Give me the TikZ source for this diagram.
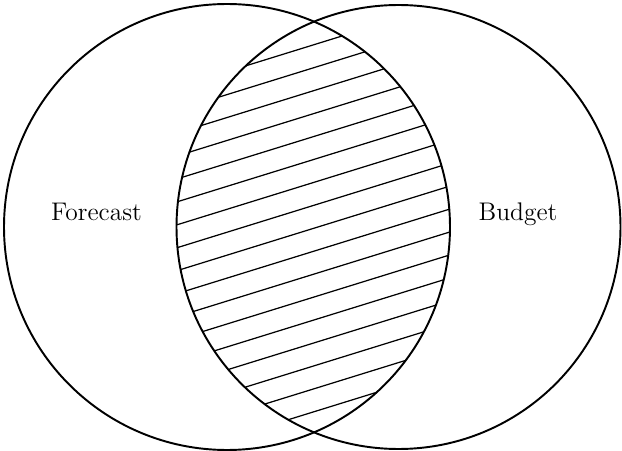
\documentclass[tikz,border=0pt]{standalone}
\usepackage{fontspec}

\begin{document}
\begin{tikzpicture}[
    ring/.style={line width=1.1pt, black},
    hatchline/.style={line width=0.7pt, black},
    setlbl/.style={font={\fontsize{14.5}{17}\selectfont},
                   anchor=base, inner sep=0pt},
]

\useasboundingbox (0, 0) rectangle (12.44, 9);

% Hatching in the overlap
\begin{scope}
    \clip (4.54, 4.46) circle (4.46);
    \clip (7.97, 4.46) circle (4.44);
    \foreach \k in {0,...,16}
        \draw[hatchline] (6.26, {8.1 - 0.4588*\k}) ++(-4, -1.24) -- ++(8, 2.48);
\end{scope}

% Forecast circle
\draw[ring] (4.54, 4.46) circle (4.46);

% Budget circle
\draw[ring] (7.97, 4.46) circle (4.44);

% Labels
\node[setlbl] (fc) at (1.93, 4.59) {Forecast};
\node[setlbl] (bd) at (10.36, 4.59) {Budget};

\end{tikzpicture}
\end{document}
